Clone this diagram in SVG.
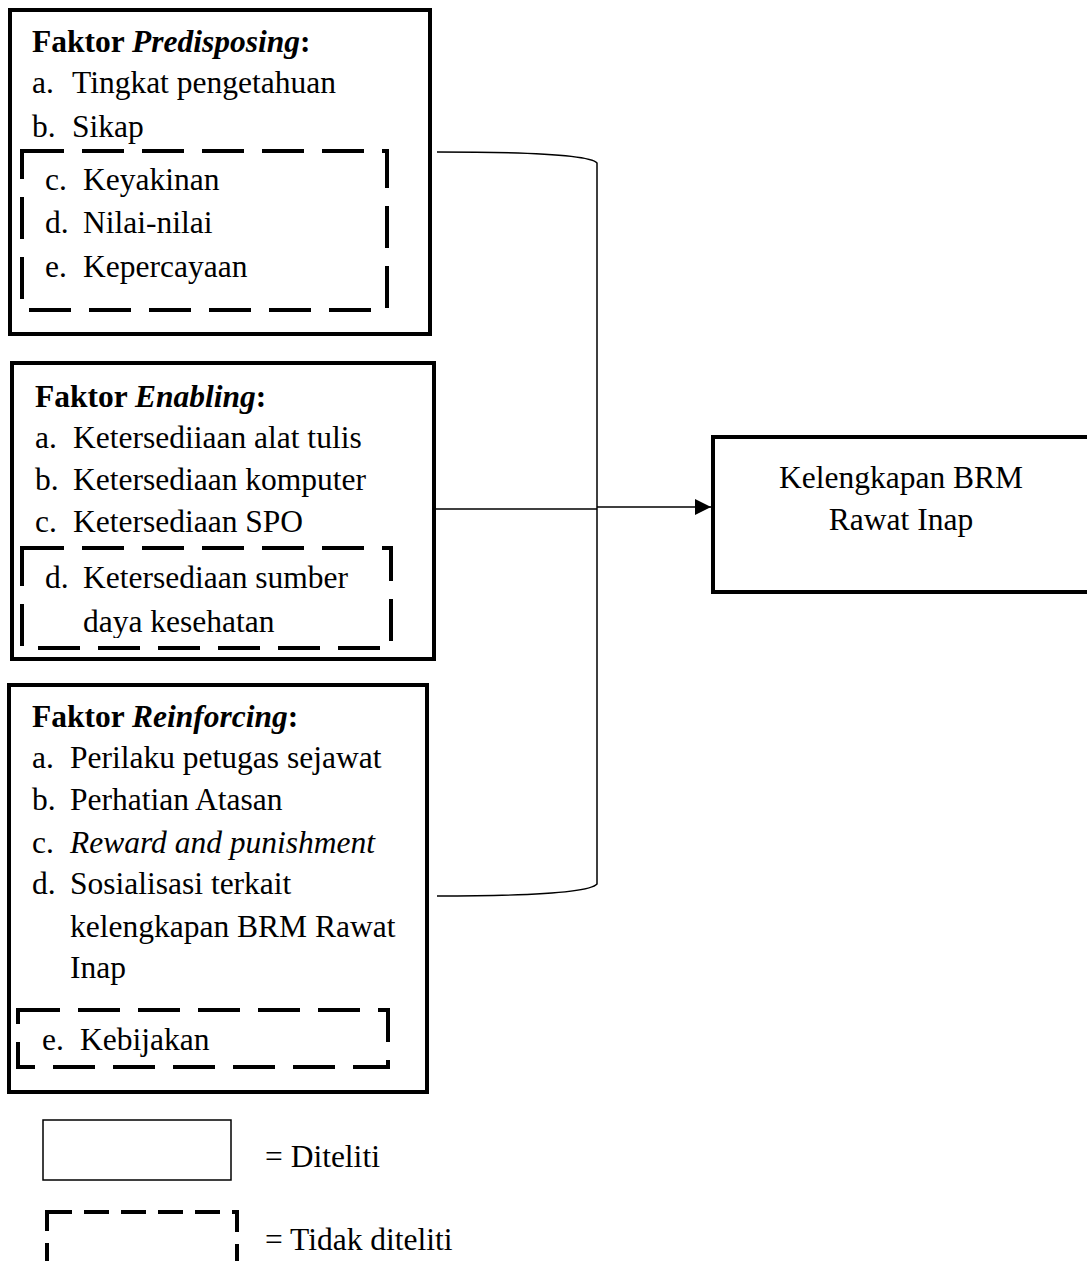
<svg xmlns="http://www.w3.org/2000/svg" width="1087" height="1261" viewBox="0 0 1087 1261">
<defs>
<style>
text{font-family:"Liberation Serif","Times New Roman",serif;font-size:31.5px;fill:#000}
.b{font-weight:bold}
.i{font-style:italic}
.box{fill:none;stroke:#000;stroke-width:4}
.dash{fill:none;stroke:#000;stroke-width:4;stroke-dasharray:42 18}
.conn{fill:none;stroke:#000;stroke-width:1.5}
</style>
<marker id="arr" viewBox="0 0 16 16" refX="16" refY="8" markerWidth="16" markerHeight="16" markerUnits="userSpaceOnUse" orient="auto">
<path d="M0,0 L16,8 L0,16 Z" fill="#000"/>
</marker>
<clipPath id="clipDaya"><rect x="0" y="600" width="450" height="38"/></clipPath>
<clipPath id="clipKeb"><rect x="0" y="1015" width="450" height="43"/></clipPath>
</defs>
<rect width="1087" height="1261" fill="#fff"/>

<g id="predisposing">
<rect class="box" x="10" y="10" width="420" height="324"/>
<rect class="dash" x="22" y="151" width="365" height="159"/>
<text x="32" y="52" class="b">Faktor <tspan class="i">Predisposing</tspan>:</text>
<text x="32" y="93">a.</text><text x="72" y="93">Tingkat pengetahuan</text>
<text x="32" y="137">b.</text><text x="72" y="137">Sikap</text>
<text x="45" y="190">c.</text><text x="83" y="190">Keyakinan</text>
<text x="45" y="233">d.</text><text x="83" y="233">Nilai-nilai</text>
<text x="45" y="277">e.</text><text x="83" y="277">Kepercayaan</text>
</g>

<g id="enabling">
<rect class="box" x="12" y="363" width="422" height="296"/>
<rect class="dash" x="22" y="548" width="369" height="100"/>
<text x="35" y="407" class="b">Faktor <tspan class="i">Enabling</tspan>:</text>
<text x="35" y="448">a.</text><text x="73" y="448">Ketersediiaan alat tulis</text>
<text x="35" y="490">b.</text><text x="73" y="490">Ketersediaan komputer</text>
<text x="35" y="532">c.</text><text x="73" y="532">Ketersediaan SPO</text>
<text x="45" y="588">d.</text><text x="83" y="588">Ketersediaan sumber</text>
<text x="83" y="632" clip-path="url(#clipDaya)">daya kesehatan</text>
</g>

<g id="reinforcing">
<rect class="box" x="9" y="685" width="418" height="407"/>
<rect class="dash" x="18" y="1010" width="370" height="57"/>
<text x="32" y="727" class="b">Faktor <tspan class="i">Reinforcing</tspan>:</text>
<text x="32" y="768">a.</text><text x="70" y="768">Perilaku petugas sejawat</text>
<text x="32" y="810">b.</text><text x="70" y="810">Perhatian Atasan</text>
<text x="32" y="853">c.</text><text x="70" y="853" class="i">Reward and punishment</text>
<text x="32" y="894">d.</text><text x="70" y="894">Sosialisasi terkait</text>
<text x="70" y="937">kelengkapan BRM Rawat</text>
<text x="70" y="978">Inap</text>
<text x="42" y="1050">e.</text><text x="80" y="1050" clip-path="url(#clipKeb)">Kebijakan</text>
</g>

<g id="outcome">
<rect class="box" x="713" y="437" width="390" height="155"/>
<text x="901" y="488" text-anchor="middle">Kelengkapan BRM</text>
<text x="901" y="530" text-anchor="middle">Rawat Inap</text>
</g>

<g id="connectors">
<path class="conn" d="M437,152 C530,152 590,155 597,163 L597,884 C590,892 530,896 437,896"/>
<line class="conn" x1="434" y1="509" x2="597" y2="509"/>
<line class="conn" x1="597" y1="507" x2="711" y2="507" marker-end="url(#arr)"/>
</g>

<g id="legend">
<rect x="43" y="1120" width="188" height="60" fill="none" stroke="#000" stroke-width="1.5"/>
<text x="265" y="1167">= Diteliti</text>
<rect x="47" y="1212" width="190" height="60" fill="none" stroke="#000" stroke-width="4" stroke-dasharray="25 12"/>
<text x="265" y="1250">= Tidak diteliti</text>
</g>
</svg>
